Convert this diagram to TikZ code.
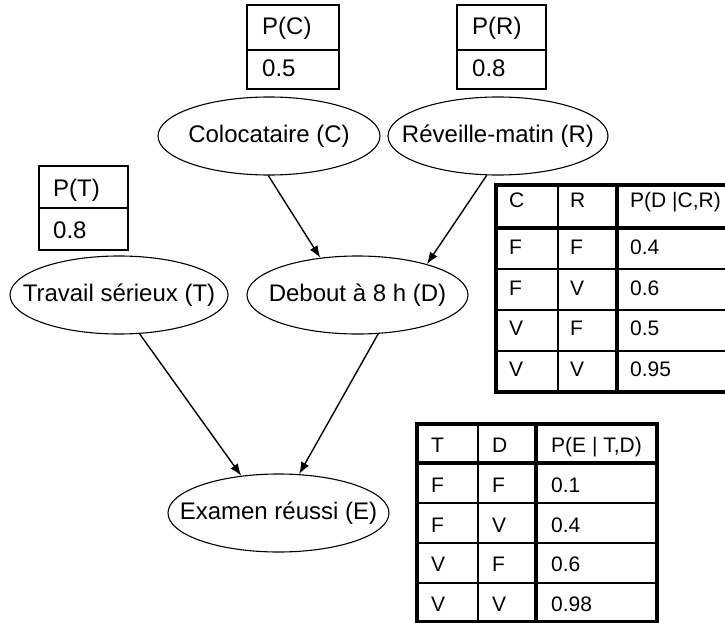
\documentclass[tikz,border=0pt]{standalone}
\usepackage{fontspec}
\setmainfont{Liberation Sans}
\usetikzlibrary{arrows.meta,shapes.geometric}
\begin{document}
\begin{tikzpicture}[x=1pt,y=-1pt,
  var/.style={draw, ellipse, inner sep=0pt, minimum height=78pt, line width=1.1pt,
              font=\fontsize{24}{24}\selectfont},
  arr/.style={-{Latex[length=12pt,width=9pt]}, line width=1.4pt},
  boxtxt/.style={anchor=base west, inner sep=0pt, font=\fontsize{24}{24}\selectfont},
  celltxt/.style={anchor=base west, inner sep=0pt, font=\fontsize{21}{21}\selectfont},
  boxrule/.style={line width=2.7pt},
  divrule/.style={line width=1.7pt},
  thinrule/.style={line width=1.5pt},
  thickrule/.style={line width=3.5pt}]
\useasboundingbox (0,0) rectangle (725,623);
\begin{scope}
\clip (0,0) rectangle (725,623);

% ---- variable nodes
\node[var, minimum width=222pt] (C) at (269,136) {\makebox[0pt]{Colocataire (C)}};
\node[var, minimum width=220pt] (R) at (498,136) {\makebox[0pt]{Réveille-matin (R)}};
\node[var, minimum width=218pt] (T) at (119,295) {\makebox[0pt]{Travail sérieux (T)}};
\node[var, minimum width=221pt] (D) at (357.5,295) {\makebox[0pt]{Debout à 8 h (D)}};
\node[var, minimum width=221pt] (E) at (278.5,513) {\makebox[0pt]{Examen réussi (E)}};

% ---- arrows
\draw[arr] (C.-91) -- (D.135);
\draw[arr] (R.-106) -- (D.24);
\draw[arr] (T.-62) -- (E.135);
\draw[arr] (D.-62) -- (E.62);

% ---- prior boxes
\draw[boxrule] (247,5) rectangle (339,89);
\draw[divrule] (247,50) -- (339,50);
\node[boxtxt] (pc) at (262,35) {P(C)};
\node[boxtxt] (pcv) at (262,77) {0.5};

\draw[boxrule] (457,5) rectangle (546,89);
\draw[divrule] (457,50) -- (546,50);
\node[boxtxt] (pr) at (472,35) {P(R)};
\node[boxtxt] (prv) at (472,77) {0.8};

\draw[boxrule] (39,166) rectangle (128,250);
\draw[divrule] (39,208) -- (128,208);
\node[boxtxt] (pt) at (53,196) {P(T)};
\node[boxtxt] (ptv) at (53,238) {0.8};

% ---- table P(D|C,R)
\draw[thinrule] (496,269) -- (740,269) (496,310) -- (740,310) (496,351) -- (740,351)
                (558,185) -- (558,392);
\draw[thickrule] (496,228) -- (740,228) (617,185) -- (617,392);
\draw[thickrule] (496,185) rectangle (740,392);
\foreach \y/\a/\b/\c [count=\i] in {207/C/R/{P(D |C,R)}, 254/F/F/0.4, 295/F/V/0.6, 335/V/F/0.5, 376/V/V/0.95} {
  \node[celltxt] (d\i-a) at (509,\y) {\a};
  \node[celltxt] (d\i-b) at (570,\y) {\b};
  \node[celltxt] (d\i-c) at (630,\y) {\c};
}

% ---- table P(E|T,D)
\draw[thinrule] (417,503) -- (657,503) (417,543) -- (657,543) (417,583) -- (657,583)
                (478,424) -- (478,622);
\draw[thickrule] (417,463) -- (657,463) (536,424) -- (536,622);
\draw[thickrule] (417,424) rectangle (657,622);
\foreach \y/\a/\b/\c [count=\i] in {452/T/D/{P(E | T,D)}, 492/F/F/0.1, 532/F/V/0.4, 571/V/F/0.6, 611/V/V/0.98} {
  \node[celltxt] (e\i-a) at (431,\y) {\a};
  \node[celltxt] (e\i-b) at (492,\y) {\b};
  \node[celltxt] (e\i-c) at (551,\y) {\c};
}
\end{scope}
\end{tikzpicture}
\end{document}
